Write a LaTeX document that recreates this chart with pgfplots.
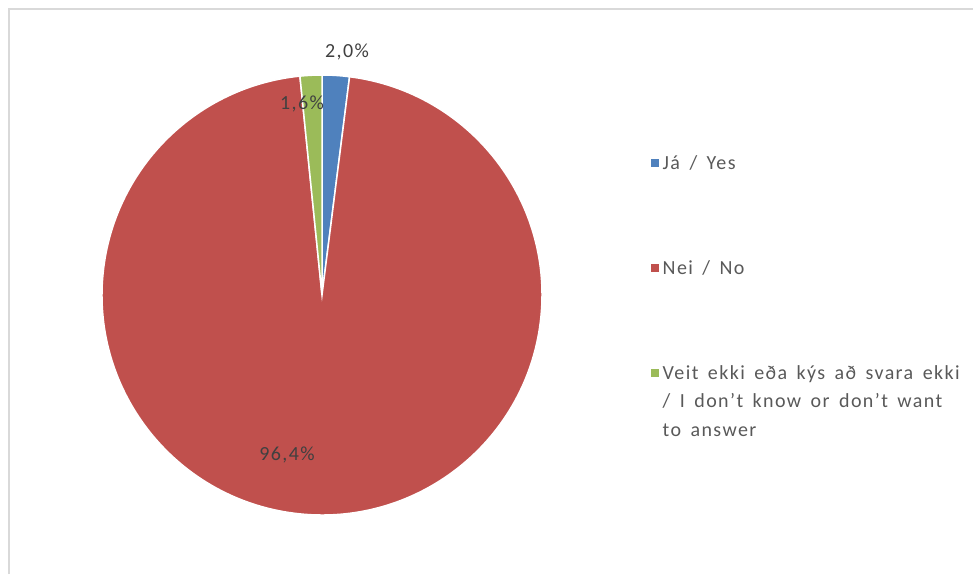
\documentclass[border=0pt]{standalone}
\usepackage{pgfplots}
\pgfplotsset{compat=1.18}
\usepgfplotslibrary{polar}
\usepackage{fontspec}
\setmainfont{Carlito}[LetterSpace=7, WordSpace=1.6]
\definecolor{pblue}{HTML}{4F81BD}
\definecolor{pred}{HTML}{C0504D}
\definecolor{pgreen}{HTML}{9BBB59}
\definecolor{txt}{HTML}{595959}
\definecolor{lbl}{HTML}{404040}
\definecolor{frame}{HTML}{D9D9D9}
\begin{document}
\begin{tikzpicture}[x=1pt,y=1pt]
\useasboundingbox (0,0) rectangle (973,574);
\draw[frame, line width=1.5pt] (9,0) -- (9,565) -- (973,565);
\begin{polaraxis}[
  at={(322pt,279pt)}, anchor=center,
  scale only axis, width=440pt, height=440pt,
  xmin=0, xmax=360, ymin=0, ymax=1,
  hide axis, clip=false,
  legend image code/.code={\fill[#1,draw=none] (0pt,2.5pt) rectangle (8pt,10.5pt);},
  legend style={at={(1.2477,0.818)}, anchor=north west, draw=none, fill=none,
    inner sep=0pt, row sep=86pt, column sep=3.5pt,
    font=\fontsize{20}{28.5}\selectfont, text=txt,
    cells={anchor=base west},
    nodes={inner sep=0pt, text height=14pt, text depth=5pt}},
]
% Ja / Yes : 2.0 %  -> 7.2 deg, starting at 12 o'clock, clockwise
\addplot[fill=pblue, draw=white, line width=1.5pt] coordinates {(0,0) (90,1)}
  arc[start angle=90, delta angle=-7.2, radius=220pt] -- cycle;
\addlegendentry{Já / Yes}
% Nei / No : 96.4 % -> 347.04 deg
\addplot[fill=pred, draw=white, line width=1.5pt] coordinates {(0,0) (82.8,1)}
  arc[start angle=82.8, delta angle=-347.04, radius=220pt] -- cycle;
\addlegendentry{Nei / No}
% Veit ekki : 1.6 % -> 5.76 deg
\addplot[fill=pgreen, draw=white, line width=1.5pt] coordinates {(0,0) (95.76,1)}
  arc[start angle=95.76, delta angle=-5.76, radius=220pt] -- cycle;
\addlegendentry{\parbox[t]{320pt}{\raggedright Veit ekki eða kýs að svara ekki\\/ I don't know or don't want\\to answer}}
\end{polaraxis}
\begin{scope}[font=\fontsize{20}{24}\selectfont, text=lbl]
\node at (347,522) {2,0\%};
\node at (302,470) {1,6\%};
\node at (287,119) {96,4\%};
\end{scope}
\end{tikzpicture}
\end{document}
